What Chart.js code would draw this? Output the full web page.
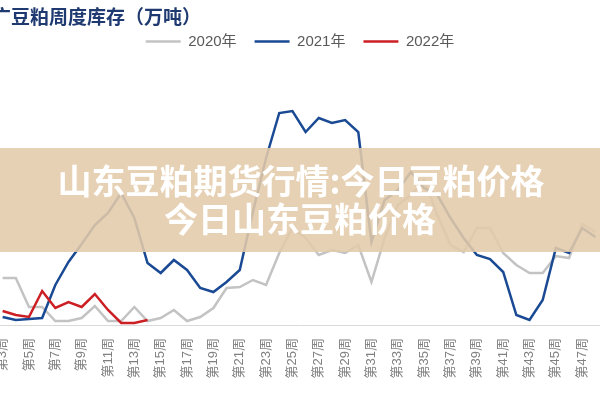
<!DOCTYPE html>
<html>
<head>
<meta charset="utf-8">
<script src="https://cdn.jsdelivr.net/npm/chart.js@4.4.1/dist/chart.umd.min.js"></script>
<style>
  html, body { margin: 0; padding: 0; background: #fff; }
</style>
</head>
<body>
<canvas id="stockChart" width="600" height="400"></canvas>
<script>
// 周次 (第3周 ~ 第48周)
const weeks = [3, 4, 5, 6, 7, 8, 9, 10, 11, 12, 13, 14, 15, 16, 17, 18, 19, 20, 21, 22, 23, 24, 25,
    26, 27, 28, 29, 30, 31, 32, 33, 34, 35, 36, 37, 38, 39, 40, 41, 42, 43, 44, 45, 46, 47, 48];
// 显示的刻度 (奇数周)
const tickWeeks = [3, 5, 7, 9, 11, 13, 15, 17, 19, 21, 23, 25, 27, 29, 31, 33, 35, 37, 39, 41, 43, 45, 47];

// 库存 (万吨)
const stock2020 = [4.7, 4.7, 1.8, 1.8, 0.4, 0.4, 0.7, 1.9, 0.4, 0.4, 1.8, 0.4, 0.7, 1.5, 0.4, 0.8,
    1.7, 3.7, 3.8, 4.5, 4.0, 7.2, 9.7, 8.7, 7.0, 7.5, 7.2, 8.0, 4.3, 8.7, 12.0, 13.0, 14.5, 11.0,
    8.0, 7.3, 9.7, 9.7, 7.2, 6.0, 5.2, 5.2, 6.9, 6.7, 10.1, 9.3];
const stock2021 = [0.8, 0.5, 0.6, 0.7, 4.0, 6.3, 8.1, 10.0, 11.2, 13.2, 10.7, 6.2, 5.2, 6.5, 5.5, 3.7,
    3.3, 4.3, 5.5, 11.3, 16.7, 21.2, 21.4, 19.3, 20.7, 20.2, 20.5, 19.3, 8.3, 12.5, 13.5, 15.3, 13.7,
    13.0, 10.7, 8.7, 7.0, 6.6, 5.3, 1.0, 0.5, 2.5, 7.7, 7.2, 9.7, 8.8];
const stock2022 = [1.4, 1.0, 0.8, 3.4, 1.7, 2.3, 1.8, 3.1, 1.5, 0.2, 0.2, 0.5];

const toPoints = (vals) => vals.map((v, i) => ({ x: weeks[i], y: v }));

// 标题 + 遮罩文字
const overlayPlugin = {
    id: 'overlay',
    afterDraw(chart) {
        const ctx = chart.ctx;
        ctx.save();
        ctx.font = 'bold 19px "Noto Sans CJK SC"';
        ctx.fillStyle = '#1f3a70';
        ctx.textAlign = 'left';
        ctx.textBaseline = 'middle';
        ctx.fillText('广豆粕周度库存（万吨）', -8, 17);

        ctx.fillStyle = 'rgba(228, 203, 170, 0.88)';
        ctx.fillRect(0, 148, chart.width, 104);
        ctx.fillStyle = '#ffffff';
        ctx.textAlign = 'center';
        ctx.font = 'bold 34px "Noto Sans CJK SC"';
        ctx.fillText('山东豆粕期货行情:今日豆粕价格', 301, 181);
        ctx.fillText('今日山东豆粕价格', 300, 219);
        ctx.restore();
    }
};

new Chart(document.getElementById('stockChart'), {
    type: 'line',
    data: {
        datasets: [{
            label: '2020年',
            data: toPoints(stock2020),
            borderColor: '#c3c3c3',
            backgroundColor: '#c3c3c3',
            borderWidth: 2.5,
            order: 3
        }, {
            label: '2021年',
            data: toPoints(stock2021),
            borderColor: '#1a4a94',
            backgroundColor: '#1a4a94',
            borderWidth: 2.5,
            order: 2
        }, {
            label: '2022年',
            data: toPoints(stock2022),
            borderColor: '#cc1f24',
            backgroundColor: '#cc1f24',
            borderWidth: 2.5,
            order: 1
        }]
    },
    options: {
        responsive: false,
        animation: false,
        devicePixelRatio: 1,
        layout: { padding: { top: 16, left: 0, right: 0, bottom: 0 } },
        elements: {
            point: { radius: 0 },
            line: { tension: 0 }
        },
        plugins: {
            tooltip: { enabled: false },
            legend: {
                reverse: true,
                labels: {
                    boxWidth: 35,
                    boxHeight: 0,
                    padding: 18,
                    color: '#595959',
                    font: { family: '"Liberation Sans", "Noto Sans CJK SC"', size: 15 }
                }
            }
        },
        scales: {
            x: {
                type: 'linear',
                min: 2.8,
                max: 48.35,
                grid: { display: false, drawTicks: false },
                border: { display: true, color: '#d9d9d9', width: 1 },
                afterBuildTicks: (axis) => { axis.ticks = tickWeeks.map(v => ({ value: v })); },
                afterFit: (axis) => { axis.height = 75; axis.paddingLeft = 0; axis.paddingRight = 0; },
                ticks: {
                    autoSkip: false,
                    minRotation: 90,
                    maxRotation: 90,
                    padding: 13,
                    color: '#808080',
                    font: { family: '"Liberation Sans", "Noto Sans CJK SC"', size: 13 },
                    callback: (v) => '第' + v + '周'
                }
            },
            y: {
                display: false,
                min: 0,
                max: 26.6
            }
        }
    },
    plugins: [overlayPlugin]
});
</script>
</body>
</html>
